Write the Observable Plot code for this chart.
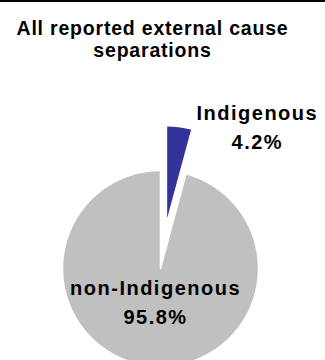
<!DOCTYPE html>
<html><head><meta charset="utf-8">
<script src="https://cdn.jsdelivr.net/npm/d3@7"></script>
<script src="https://cdn.jsdelivr.net/npm/@observablehq/plot@0.6"></script>
<style>
html,body{margin:0;padding:0;background:#fff;}
#wrap{width:325px;height:358px;border-top:2px solid #000;overflow:hidden;font-family:"Liberation Sans",Arial,sans-serif;}
#title{width:305px;text-align:center;font-weight:bold;font-size:19.5px;line-height:22px;letter-spacing:0.8px;padding-top:15px;height:44px;color:#000;}
#chart svg text{letter-spacing:1.5px;}
</style></head><body>
<div id="wrap"><div id="title">All reported external cause<br>separations</div><div id="chart"></div></div>
<script>
const categories = ["Indigenous", "non-Indigenous"];
const shares = [4.2, 95.8];
const valueLabels = ["4.2%", "95.8%"];
const colors = ["#333399", "#c0c0c0"];

// styling / layout
const R = 98;            // pixel radius
const W = 325, H = 299;  // svg size
const CX = 160, CY = 207; // pie centre in svg pixels
const explode = [0.46, 0];

const arcs = d3.pie().sort(null).value(d => d)(shares);
const wedgePts = [];
const labels = [];
arcs.forEach((a, i) => {
  const mid = (a.startAngle + a.endAngle) / 2;
  const ox = explode[i] * Math.sin(mid), oy = explode[i] * Math.cos(mid);
  wedgePts.push({key: categories[i], x: ox, y: oy});
  const n = Math.max(2, Math.ceil((a.endAngle - a.startAngle) / (Math.PI / 360)));
  for (let k = 0; k <= n; k++) {
    const t = a.startAngle + (a.endAngle - a.startAngle) * k / n;
    wedgePts.push({key: categories[i], x: ox + Math.sin(t), y: oy + Math.cos(t)});
  }
  const lr = i === 0 ? 1 : 0.345;
  labels.push({key: categories[i], text: categories[i] + "\n" + valueLabels[i],
               x: ox + lr * Math.sin(mid), y: oy + lr * Math.cos(mid)});
});

const plot = Plot.plot({
  width: W, height: H, margin: 0,
  style: {fontFamily: '"Liberation Sans", Arial, sans-serif', background: "#fff", color: "#000"},
  x: {domain: [-CX / R, (W - CX) / R], axis: null},
  y: {domain: [-(H - CY) / R, CY / R], axis: null},
  color: {domain: categories, range: colors},
  marks: [
    Plot.line(wedgePts, {x: "x", y: "y", z: "key", fill: d => d.key, stroke: "#fff", strokeWidth: 1.5, curve: "linear-closed"}),
    Plot.text(labels.slice(0, 1), {x: "x", y: "y", text: "text", dx: 78, dy: 22, fontSize: 20, fontWeight: "bold", fill: "#000", lineAnchor: "bottom", lineHeight: 1.45, textAnchor: "middle"}),
    Plot.text(labels.slice(1), {x: "x", y: "y", text: "text", dx: -0.5, dy: 21.5, fontSize: 20, fontWeight: "bold", fill: "#000", lineAnchor: "bottom", lineHeight: 1.45, textAnchor: "middle"})
  ]
});
document.getElementById("chart").appendChild(plot);
</script>
</body></html>
